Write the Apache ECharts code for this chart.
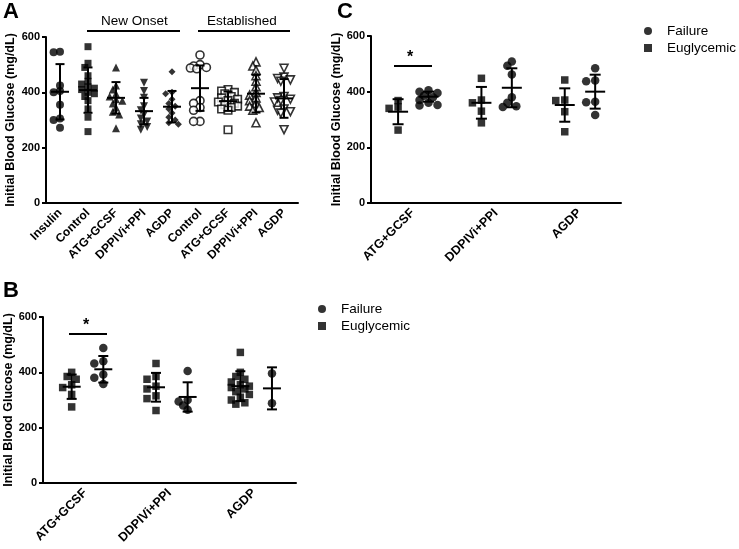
<!DOCTYPE html>
<html><head><meta charset="utf-8">
<script src="https://cdn.jsdelivr.net/npm/echarts@6/dist/echarts.min.js"></script>
<style>html,body{margin:0;padding:0;background:#fff}#c{width:739px;height:549px}</style>
</head><body><div id="c"></div>
<script>
// ---------- DATA ----------
// Panel A
const catsA = ['Insulin','Control','ATG+GCSF','DPPIVi+PPI','AGDP','Control','ATG+GCSF','DPPIVi+PPI','AGDP'];
const insulinA    = [547, 545, 425, 405, 400, 355, 305, 300, 272];
const controlNewA = [565, 505, 490, 460, 440, 430, 420, 415, 410, 400, 395, 385, 370, 340, 310, 258];
const atgNewA     = [490, 425, 410, 395, 385, 375, 370, 360, 345, 330, 320, 270];
const dppivNewA   = [435, 405, 380, 350, 335, 320, 305, 295, 285, 275, 265];
const agdpNewA    = [474, 400, 395, 375, 360, 350, 340, 325, 310, 300, 290, 285];
const controlEstA = [535, 500, 495, 490, 488, 485, 370, 360, 345, 335, 295, 295];
const atgEstA     = [410, 405, 400, 395, 385, 380, 375, 370, 365, 360, 355, 350, 345, 340, 335, 265];
const dppivEstA   = [510, 495, 480, 460, 440, 420, 400, 390, 380, 370, 360, 350, 345, 335, 290];
const agdpEstA    = [487, 455, 450, 445, 440, 385, 380, 375, 370, 365, 340, 335, 330, 325, 265];
const meanA = [402, 408, 380, 332, 348, 415, 368, 395, 378];
const sdA   = [100, 82, 57, 48, 57, 82, 35, 68, 70];

// Panel B
const catsB = ['ATG+GCSF','DDPIVi+PPI','AGDP'];
const eugB_ATG  = [400, 385, 375, 355, 345, 320, 275];
const failB_ATG = [488, 440, 432, 392, 380, 358];
const eugB_DDP  = [432, 385, 375, 350, 340, 315, 305, 262];
const failB_DDP = [405, 300, 295, 280, 265];
const eugB_AGDP = [472, 400, 385, 375, 365, 355, 350, 345, 340, 330, 320, 310, 300, 290, 285];
const failB_AGDP = [396, 288];
const meanEugB = [348, 346, 350], sdEugB = [44, 52, 54];
const meanFailB = [411, 311, 342], sdFailB = [48, 53, 76];

// Panel C
const catsC = ['ATG+GCSF','DDPIVi+PPI','AGDP'];
const eugC_ATG  = [368, 345, 340, 262];
const failC_ATG = [405, 400, 395, 385, 380, 370, 360, 352, 350];
const eugC_DDP  = [448, 370, 360, 330, 288];
const failC_DDP = [508, 493, 462, 380, 360, 348, 345];
const eugC_AGDP = [442, 370, 368, 328, 256];
const failC_AGDP = [484, 440, 437, 364, 362, 316];
const meanEugC = [328, 360, 352], sdEugC = [45, 57, 60];
const meanFailC = [382, 414, 400], sdFailC = [18, 70, 61];

const yTicks = [0, 200, 400, 600];
const yTitle = 'Initial Blood Glucose (mg/dL)';

// ---------- HELPERS ----------
const FONT = 'Arial, "Liberation Sans", sans-serif';
// deterministic beeswarm offsets (in px), limited width
function swarm(vals, pxPerVal, d, step, maxM) {
  const order = vals.map((v, i) => i).sort((a, b) => vals[b] - vals[a]);
  const placed = [];
  const off = new Array(vals.length).fill(0);
  order.forEach(i => {
    const y = vals[i] * pxPerVal;
    let best = 0, bestD = -1;
    for (let k = 0; k <= 2 * maxM; k++) {
      const m = k === 0 ? 0 : (k % 2 ? -Math.ceil(k / 2) : Math.ceil(k / 2));
      const x = m * step;
      const md = placed.reduce((a, p) => Math.min(a, Math.hypot(p[0] - x, p[1] - y)), 1e9);
      if (md >= d) { best = x; break; }
      if (md > bestD) { bestD = md; best = x; }
    }
    placed.push([best, y]); off[i] = best;
  });
  return off;
}
function pts(vals, center, pxPerVal, catPx, d, step, maxM) {
  const off = swarm(vals, pxPerVal, d, step, maxM);
  return vals.map((v, k) => [center + off[k] / catPx, v]);
}
function errSeries(xi, yi, data, capHalf, meanHalf) {
  return {
    type: 'custom', xAxisIndex: xi, yAxisIndex: yi, z: 5, silent: true,
    encode: { x: 0, y: 1 }, data: data,
    renderItem: (params, api) => {
      const x = api.value(0), m = api.value(1), s = api.value(2);
      const pm = api.coord([x, m]), pt = api.coord([x, m + s]), pb = api.coord([x, m - s]);
      const st = { stroke: '#000', lineWidth: 2 };
      return { type: 'group', children: [
        { type: 'line', shape: { x1: pm[0], y1: pt[1], x2: pm[0], y2: pb[1] }, style: st },
        { type: 'line', shape: { x1: pm[0] - capHalf, y1: pt[1], x2: pm[0] + capHalf, y2: pt[1] }, style: st },
        { type: 'line', shape: { x1: pm[0] - capHalf, y1: pb[1], x2: pm[0] + capHalf, y2: pb[1] }, style: st },
        { type: 'line', shape: { x1: pm[0] - meanHalf, y1: pm[1], x2: pm[0] + meanHalf, y2: pm[1] }, style: st }
      ]};
    }
  };
}
function catAxis(gi, cats, fs) {
  return {
    type: 'category', gridIndex: gi, data: cats, boundaryGap: true,
    axisLine: { lineStyle: { color: '#000', width: 2 } },
    axisTick: { alignWithLabel: true, length: 4, lineStyle: { color: '#000', width: 2 } },
    axisLabel: { rotate: 45, color: '#000', fontWeight: 'bold', fontSize: fs, fontFamily: FONT, margin: 8, interval: 0 },
    splitLine: { show: false }
  };
}
function hidAxis(gi, n) { return { type: 'value', gridIndex: gi, min: 0, max: n, show: false, splitLine: { show: false } }; }
function valAxis(gi, gap) {
  return {
    type: 'value', gridIndex: gi, min: yTicks[0], max: yTicks[yTicks.length - 1], interval: yTicks[1] - yTicks[0],
    axisLine: { show: true, lineStyle: { color: '#000', width: 2 } },
    axisTick: { show: true, length: 4, lineStyle: { color: '#000', width: 2 } },
    axisLabel: { color: '#000', fontWeight: 'bold', fontSize: 11, fontFamily: FONT, margin: 6 },
    splitLine: { show: false },
    name: yTitle, nameLocation: 'middle', nameGap: gap,
    nameTextStyle: { color: '#000', fontWeight: 'bold', fontSize: 12.5, fontFamily: FONT }
  };
}

// ---------- LAYOUT ----------
const gA = { left: 46, top: 37, width: 252, height: 166 };
const gC = { left: 371, top: 36, width: 250, height: 167 };
const gB = { left: 43, top: 317, width: 253, height: 166 };
const sA = gA.height / 600, sB = gB.height / 600, sC = gC.height / 600;
const cwA = gA.width / 9, cwB = gB.width / 3, cwC = gC.width / 3;

const filled = { color: '#000' };
const open = { color: '#fff', borderColor: '#000', borderWidth: 1.6 };
const groupsA = [
  { v: insulinA, sym: 'circle', size: 8, st: filled },
  { v: controlNewA, sym: 'rect', size: 7, st: filled },
  { v: atgNewA, sym: 'triangle', size: 8, st: filled },
  { v: dppivNewA, sym: 'triangle', size: 8, st: filled, rot: 180 },
  { v: agdpNewA, sym: 'diamond', size: 7, st: filled },
  { v: controlEstA, sym: 'circle', size: 8, st: open },
  { v: atgEstA, sym: 'rect', size: 7.5, st: open },
  { v: dppivEstA, sym: 'triangle', size: 8, st: open },
  { v: agdpEstA, sym: 'triangle', size: 8, st: open, rot: 180 }
];

const series = [];
groupsA.forEach((g, i) => {
  series.push({
    type: 'scatter', name: 'A' + i, xAxisIndex: 1, yAxisIndex: 0,
    symbol: g.sym, symbolSize: g.size, symbolRotate: g.rot || 0, itemStyle: g.st,
    data: pts(g.v, i + 0.5, sA, cwA, 5, 3.2, 3), z: 3
  });
});
series.push(errSeries(1, 0, meanA.map((m, i) => [i + 0.5, m, sdA[i]]), 4.5, 9));

// Panel C
const offEugC = -0.175, offFailC = 0.19;
const eugC = [eugC_ATG, eugC_DDP, eugC_AGDP], failC = [failC_ATG, failC_DDP, failC_AGDP];
series.push({ type: 'scatter', name: 'Euglycemic', xAxisIndex: 3, yAxisIndex: 1, symbol: 'rect', symbolSize: 7.5, itemStyle: filled, z: 3,
  data: [].concat(...eugC.map((v, i) => pts(v, i + 0.5 + offEugC, sC, cwC, 6, 4.5, 2))) });
series.push({ type: 'scatter', name: 'Failure', xAxisIndex: 3, yAxisIndex: 1, symbol: 'circle', symbolSize: 8.5, itemStyle: filled, z: 3,
  data: [].concat(...failC.map((v, i) => pts(v, i + 0.5 + offFailC, sC, cwC, 6, 4.5, 2))) });
series.push(errSeries(3, 1, meanEugC.map((m, i) => [i + 0.5 + offEugC, m, sdEugC[i]]), 5.5, 10));
series.push(errSeries(3, 1, meanFailC.map((m, i) => [i + 0.5 + offFailC, m, sdFailC[i]]), 5.5, 10));

// Panel B
const offEugB = -0.16, offFailB = 0.215;
const eugB = [eugB_ATG, eugB_DDP, eugB_AGDP], failB = [failB_ATG, failB_DDP, failB_AGDP];
series.push({ type: 'scatter', name: 'Euglycemic', xAxisIndex: 5, yAxisIndex: 2, symbol: 'rect', symbolSize: 7.5, itemStyle: filled, z: 3,
  data: [].concat(...eugB.map((v, i) => pts(v, i + 0.5 + offEugB, sB, cwB, 6, 4.5, 2))) });
series.push({ type: 'scatter', name: 'Failure', xAxisIndex: 5, yAxisIndex: 2, symbol: 'circle', symbolSize: 8.5, itemStyle: filled, z: 3,
  data: [].concat(...failB.map((v, i) => pts(v, i + 0.5 + offFailB, sB, cwB, 6, 4.5, 2))) });
series.push(errSeries(5, 2, meanEugB.map((m, i) => [i + 0.5 + offEugB, m, sdEugB[i]]), 5, 9));
series.push(errSeries(5, 2, meanFailB.map((m, i) => [i + 0.5 + offFailB, m, sdFailB[i]]), 5, 9));

function legend(left, top, gap) {
  return {
    left: left, top: top, orient: 'vertical', itemWidth: 8, itemHeight: 8, itemGap: gap,
    selectedMode: false, padding: 0,
    textStyle: { color: '#000', fontSize: 13.5, fontFamily: FONT, padding: [0, 0, 0, 10] },
    data: [{ name: 'Failure', icon: 'circle' }, { name: 'Euglycemic', icon: 'path://M0,0H10V10H0Z' }]
  };
}

const txt = (x, y, s, size, weight) => ({ type: 'text', left: x, top: y,
  style: { text: s, fontSize: size, fontWeight: weight, fontFamily: FONT, fill: '#000' } });
const hline = (x1, x2, y) => ({ type: 'line', shape: { x1: x1, y1: y, x2: x2, y2: y }, style: { stroke: '#000', lineWidth: 2 } });

const chart = echarts.init(document.getElementById('c'), null, { renderer: 'canvas' });
chart.setOption({
  animation: false,
  backgroundColor: '#fff',
  grid: [gA, gC, gB],
  xAxis: [catAxis(0, catsA, 12), hidAxis(0, 9), catAxis(1, catsC, 12.5), hidAxis(1, 3), catAxis(2, catsB, 12.5), hidAxis(2, 3)],
  yAxis: [valAxis(0, 29), valAxis(1, 18), valAxis(2, 27)],
  legend: [legend(644, 24, 3), legend(318, 302, 3)],
  series: series,
  graphic: [
    txt(3, 1, 'A', 22, 'bold'),
    txt(3, 280, 'B', 22, 'bold'),
    txt(337, 1, 'C', 22, 'bold'),
    txt(101, 14, 'New Onset', 13.5, 'normal'),
    txt(207, 14, 'Established', 13.5, 'normal'),
    hline(87, 180, 31),
    hline(198, 290, 31),
    hline(394, 432, 66),
    txt(407, 50, '*', 16, 'bold'),
    hline(69, 107, 334),
    txt(83, 318, '*', 16, 'bold')
  ]
});
</script></body></html>
